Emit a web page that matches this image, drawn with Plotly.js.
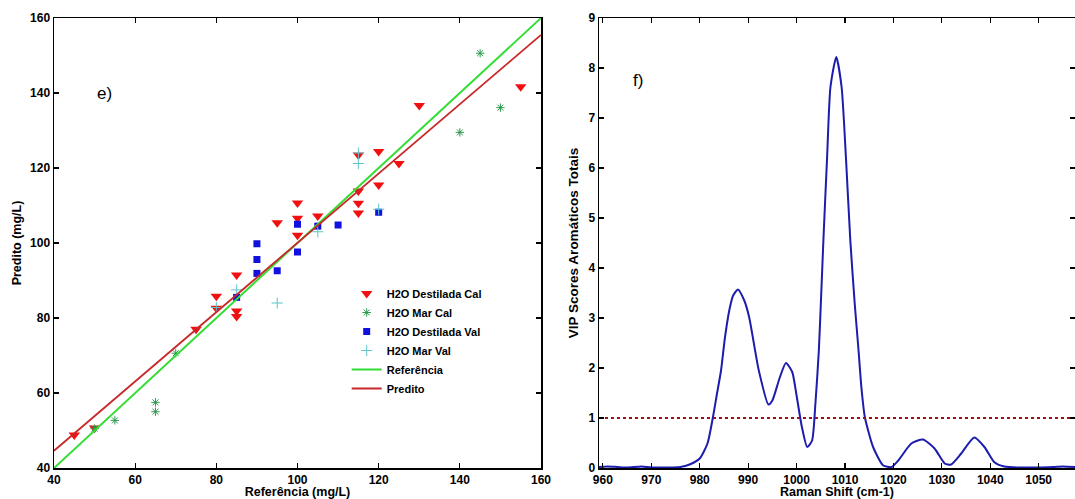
<!DOCTYPE html>
<html>
<head>
<meta charset="utf-8">
<script src="https://cdn.plot.ly/plotly-3.0.1.min.js"></script>
<style>
html,body{margin:0;padding:0;background:#fff;}
#chart{width:1075px;height:499px;}
</style>
</head>
<body>
<div id="chart"></div>
<script>
// ---- Panel e) data ----
const destCalX = [45, 50, 75, 80, 80, 85, 85, 85, 95, 100, 100, 100, 105, 115, 115, 115, 115, 120, 120, 125, 130, 155];
const destCalY = [48.8, 50.7, 77, 85.8, 82.6, 91.5, 81.9, 80.4, 105.4, 110.7, 106.6, 102.1, 107.2, 123.5, 113.9, 110.6, 108, 124.4, 115.5, 121.2, 136.7, 141.7];
const marCalX = [50, 55, 65, 65, 70, 140, 145, 150];
const marCalY = [50.5, 52.7, 57.5, 55, 70.6, 129.5, 150.6, 136.1];
const destValX = [85, 90, 90, 90, 95, 100, 100, 105, 110, 120];
const destValY = [85.5, 99.8, 95.6, 91.9, 92.6, 97.6, 105, 104.5, 104.8, 108.2];
const marValX = [80, 85, 95, 105, 115, 115, 120];
const marValY = [82.8, 87.5, 84, 103, 121.2, 124, 109];
const refLineX = [40, 160];
const refLineY = [40, 160];
const predLineX = [40, 160];
const predLineY = [44.6, 155.5];

// ---- Panel f) data ----
const ramanShift = [959.2, 961, 963, 965, 968, 970, 973, 976, 977.9, 980, 981.6, 982.7, 983.5, 984.4, 985.2, 986.1, 986.9, 987.9, 989.2, 990.2, 992.2, 994.2, 995, 996.5, 997.8, 999.1, 1000, 1001.1, 1002.2, 1003.2, 1003.9, 1004.6, 1005.1, 1005.6, 1006.3, 1007, 1008.2, 1009.3, 1010.2, 1011.1, 1012, 1012.8, 1013.4, 1014.1, 1015.8, 1017.9, 1019.6, 1021, 1023.7, 1026.1, 1028.5, 1030.6, 1031.9, 1034, 1036.7, 1038.8, 1040.8, 1042.9, 1046, 1050, 1053, 1055, 1057.5];
const vipScores = [0.02, 0.03, 0.02, 0.01, 0.03, 0.01, 0.01, 0.02, 0.07, 0.19, 0.49, 1.0, 1.45, 1.95, 2.6, 3.15, 3.45, 3.57, 3.35, 3.02, 1.95, 1.27, 1.35, 1.8, 2.1, 1.92, 1.45, 0.82, 0.42, 0.55, 1.3, 2.35, 3.5, 4.69, 6.2, 7.62, 8.22, 7.62, 6.2, 4.55, 3.3, 2.35, 1.6, 1.02, 0.42, 0.05, 0.02, 0.15, 0.49, 0.57, 0.39, 0.09, 0.07, 0.29, 0.61, 0.42, 0.12, 0.03, 0.01, 0.01, 0.02, 0.03, 0.02];
const thresholdX = [959.2, 1057.5];
const thresholdY = [1, 1];

const W = 1075;
const FONT = "Liberation Sans, Arial, sans-serif";

const traces = [
  {x: destCalX, y: destCalY, type: 'scatter', mode: 'markers', name: 'H2O Destilada Cal',
   marker: {symbol: 'triangle-down', size: 10, color: '#f01010'}, xaxis: 'x', yaxis: 'y'},
  {x: marCalX, y: marCalY, type: 'scatter', mode: 'markers', name: 'H2O Mar Cal',
   marker: {symbol: 'asterisk-open', size: 7, color: '#2e9a4e', line: {color: '#2e9a4e', width: 1}}, xaxis: 'x', yaxis: 'y'},
  {x: destValX, y: destValY, type: 'scatter', mode: 'markers', name: 'H2O Destilada Val',
   marker: {symbol: 'square', size: 7, color: '#1010e0'}, xaxis: 'x', yaxis: 'y'},
  {x: marValX, y: marValY, type: 'scatter', mode: 'markers', name: 'H2O Mar Val',
   marker: {symbol: 'cross-thin-open', size: 8, color: '#5cc6cc', line: {color: '#5cc6cc', width: 1}}, xaxis: 'x', yaxis: 'y'},
  {x: refLineX, y: refLineY, type: 'scatter', mode: 'lines', name: 'Referência',
   line: {color: '#33dd33', width: 2}, xaxis: 'x', yaxis: 'y'},
  {x: predLineX, y: predLineY, type: 'scatter', mode: 'lines', name: 'Predito',
   line: {color: '#c8282a', width: 1.8}, xaxis: 'x', yaxis: 'y'},
  {x: ramanShift, y: vipScores, type: 'scatter', mode: 'lines', showlegend: false,
   line: {color: '#1c1cae', width: 2, shape: 'spline', smoothing: 0.6}, xaxis: 'x2', yaxis: 'y2'},
  {x: thresholdX, y: thresholdY, type: 'scatter', mode: 'lines', showlegend: false,
   line: {color: '#a01010', width: 2.2, dash: 'dot'}, xaxis: 'x2', yaxis: 'y2'}
];

const tickFont = {family: FONT, size: 12, color: '#000', weight: 'bold'};
const titleFontL = {family: FONT, size: 12.5, color: '#000', weight: 'bold'};
const titleFontR = {family: FONT, size: 12.5, color: '#000', weight: 'bold'};
const axBase = {
  showgrid: false, zeroline: false, showline: true, linecolor: '#000', linewidth: 1.5,
  mirror: 'ticks', ticks: 'inside', ticklen: 5, tickwidth: 1.2, tickcolor: '#000',
  tickfont: tickFont
};

const layout = {
  width: 1075, height: 499,
  margin: {l: 0, r: 0, t: 18, b: 31},
  paper_bgcolor: '#fff', plot_bgcolor: '#fff',
  showlegend: true,
  legend: {x: 0.3225, y: 0.42, xanchor: 'left', yanchor: 'top', bgcolor: 'rgba(0,0,0,0)',
           font: {family: FONT, size: 11, color: '#000', weight: 'bold'}, tracegroupgap: 0},
  xaxis: Object.assign({}, axBase, {domain: [54 / W, 541 / W], range: [40, 160], dtick: 20, anchor: 'y',
    title: {text: 'Referência (mg/L)', font: titleFontL, standoff: 6}}),
  yaxis: Object.assign({}, axBase, {domain: [0, 1], range: [40, 160], dtick: 20, anchor: 'x',
    title: {text: 'Predito (mg/L)', font: titleFontL, standoff: 5}}),
  xaxis2: Object.assign({}, axBase, {domain: [599 / W, 1], range: [959.2, 1057.5], dtick: 10, tick0: 960, anchor: 'y2',
    title: {text: 'Raman Shift (cm-1)', font: titleFontR, standoff: 8}}),
  yaxis2: Object.assign({}, axBase, {domain: [0, 1], range: [0, 9], dtick: 1, anchor: 'x2',
    title: {text: 'VIP Scores Aromáticos Totais', font: {family: FONT, size: 13.5, color: '#000', weight: 'bold'}, standoff: 6}}),
  annotations: [
    {x: 52.5, y: 140, xref: 'x', yref: 'y', text: 'e)', showarrow: false,
     font: {family: FONT, size: 17, color: '#000'}},
    {x: 967.2, y: 7.75, xref: 'x2', yref: 'y2', text: 'f)', showarrow: false,
     font: {family: FONT, size: 17, color: '#000'}}
  ]
};

Plotly.newPlot('chart', traces, layout, {displayModeBar: false, staticPlot: true});
</script>
</body>
</html>
